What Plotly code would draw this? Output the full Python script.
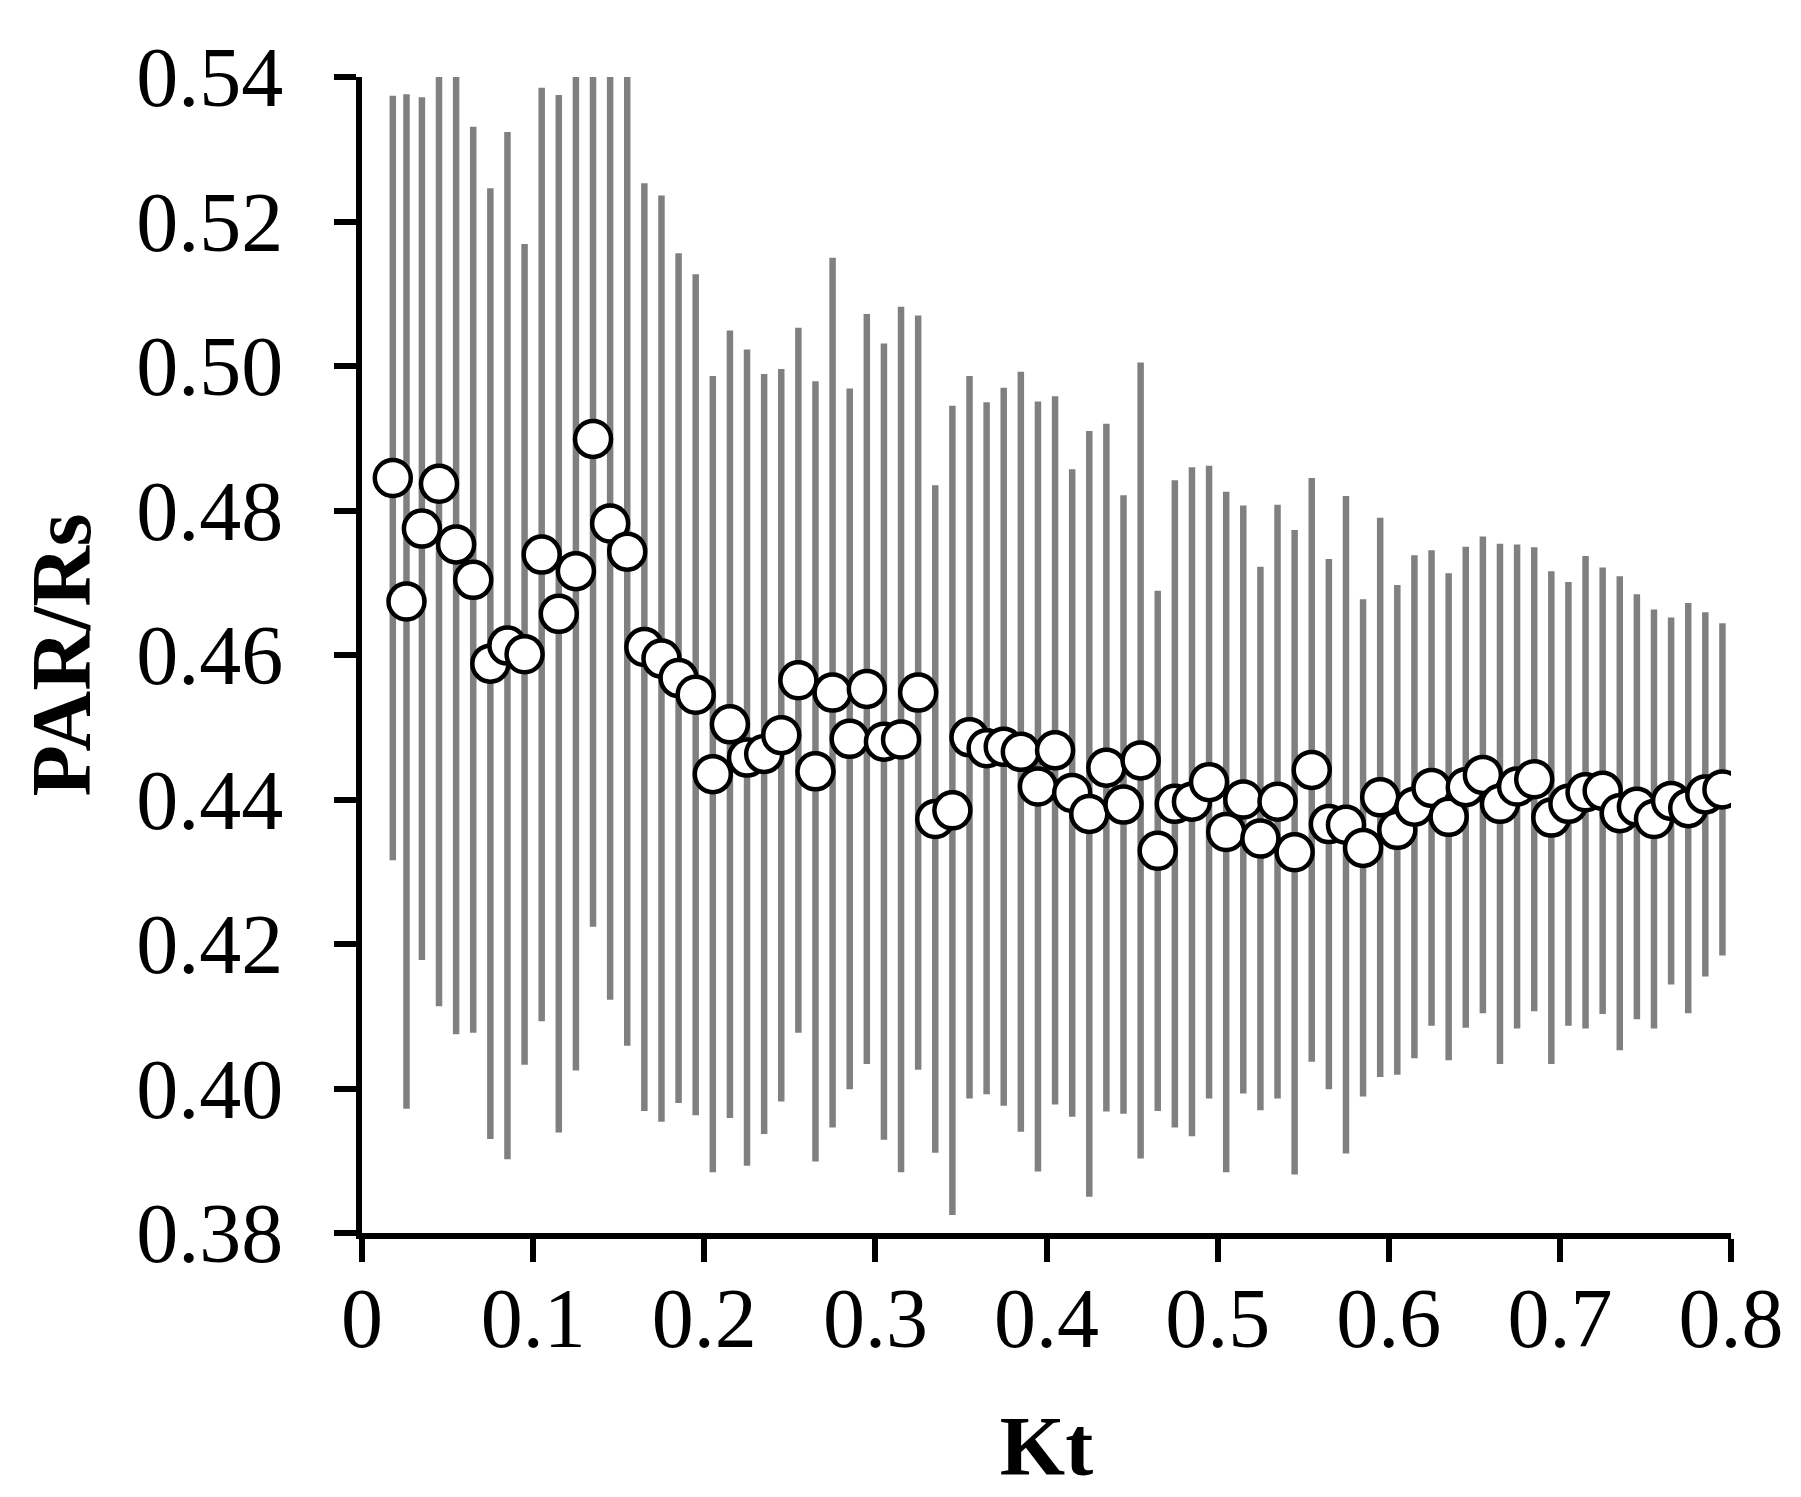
import plotly.graph_objects as go

# Kt class centres (clearness index)
kt = [0.018, 0.026, 0.035, 0.045, 0.055, 0.065, 0.075, 0.085, 0.095, 0.105,
      0.115, 0.125, 0.135, 0.145, 0.155, 0.165, 0.175, 0.185, 0.195, 0.205,
      0.215, 0.225, 0.235, 0.245, 0.255, 0.265, 0.275, 0.285, 0.295, 0.305,
      0.315, 0.325, 0.335, 0.345, 0.355, 0.365, 0.375, 0.385, 0.395, 0.405,
      0.415, 0.425, 0.435, 0.445, 0.455, 0.465, 0.475, 0.485, 0.495, 0.505,
      0.515, 0.525, 0.535, 0.545, 0.555, 0.565, 0.575, 0.585, 0.595, 0.605,
      0.615, 0.625, 0.635, 0.645, 0.655, 0.665, 0.675, 0.685, 0.695, 0.705,
      0.715, 0.725, 0.735, 0.745, 0.755, 0.765, 0.775, 0.785, 0.795]

# mean PAR/Rs ratio per class
par_rs_mean = [0.4845, 0.4674, 0.4775, 0.4837, 0.4753, 0.4704, 0.4588, 0.4613, 0.4601, 0.4739,
               0.4657, 0.4716, 0.4899, 0.4782, 0.4743, 0.4611, 0.4595, 0.4568, 0.4545, 0.4435,
               0.4504, 0.4458, 0.4463, 0.4489, 0.4565, 0.4439, 0.4548, 0.4484, 0.4553, 0.4480,
               0.4483, 0.4548, 0.4373, 0.4385, 0.4486, 0.4471, 0.4473, 0.4466, 0.4418, 0.4468,
               0.4409, 0.4380, 0.4444, 0.4393, 0.4454, 0.4329, 0.4394, 0.4397, 0.4424, 0.4355,
               0.4400, 0.4346, 0.4397, 0.4327, 0.4441, 0.4366, 0.4365, 0.4333, 0.4403, 0.4358,
               0.4390, 0.4416, 0.4376, 0.4417, 0.4434, 0.4394, 0.4418, 0.4428, 0.4375, 0.4394,
               0.4410, 0.4412, 0.4381, 0.4390, 0.4373, 0.4398, 0.4388, 0.4407, 0.4414]

# standard deviation per class
par_rs_sd = [0.0529, 0.0702, 0.0597, 0.0723, 0.0678, 0.0627, 0.0658, 0.0711, 0.0568, 0.0646,
             0.0718, 0.0691, 0.0675, 0.0659, 0.0684, 0.0642, 0.0641, 0.0588, 0.0582, 0.0551,
             0.0545, 0.0565, 0.0526, 0.0507, 0.0488, 0.0540, 0.0602, 0.0485, 0.0519, 0.0551,
             0.0599, 0.0522, 0.0462, 0.0560, 0.0500, 0.0479, 0.0497, 0.0526, 0.0533, 0.0490,
             0.0448, 0.0530, 0.0476, 0.0428, 0.0551, 0.0360, 0.0448, 0.0463, 0.0438, 0.0471,
             0.0407, 0.0376, 0.0411, 0.0446, 0.0404, 0.0367, 0.0455, 0.0344, 0.0387, 0.0339,
             0.0348, 0.0329, 0.0337, 0.0333, 0.0330, 0.0360, 0.0335, 0.0321, 0.0341, 0.0307,
             0.0327, 0.0309, 0.0328, 0.0294, 0.0290, 0.0254, 0.0284, 0.0252, 0.0230]

x_ticks = [0, 0.1, 0.2, 0.3, 0.4, 0.5, 0.6, 0.7, 0.8]
x_tick_labels = ["0", "0.1", "0.2", "0.3", "0.4", "0.5", "0.6", "0.7", "0.8"]
y_ticks = [0.38, 0.40, 0.42, 0.44, 0.46, 0.48, 0.50, 0.52, 0.54]
y_tick_labels = ["0.38", "0.40", "0.42", "0.44", "0.46", "0.48", "0.50", "0.52", "0.54"]

font_family = "Liberation Serif, Times New Roman, serif"

fig = go.Figure()

fig.add_trace(go.Scatter(
    x=kt, y=par_rs_mean,
    mode="markers",
    marker=dict(size=36, color="white", line=dict(color="black", width=4.5)),
    error_y=dict(type="data", array=par_rs_sd, visible=True,
                 color="#808080", thickness=6.5, width=0),
    showlegend=False,
))

fig.update_layout(
    width=1801, height=1497,
    paper_bgcolor="white", plot_bgcolor="white",
    margin=dict(l=354, r=78, t=69, b=272),
    font=dict(family=font_family, color="black", size=84),
)

fig.update_xaxes(
    range=[0, 0.8], tickvals=x_ticks, ticktext=x_tick_labels, tickangle=0,
    showgrid=False, zeroline=False, automargin=False,
    showline=True, linecolor="black", linewidth=6,
    ticks="outside", ticklen=23, tickwidth=6, tickcolor="black",
    ticklabelstandoff=-16,
    tickfont=dict(size=84),
    title=dict(text="<b>Kt</b>", font=dict(size=84), standoff=54),
)

fig.update_yaxes(
    range=[0.38, 0.54], tickvals=y_ticks, ticktext=y_tick_labels,
    showgrid=False, zeroline=False, automargin=False,
    showline=True, linecolor="black", linewidth=6,
    ticks="outside", ticklen=22, tickwidth=6, tickcolor="black",
    ticklabelstandoff=34,
    tickfont=dict(size=84),
    title=dict(text="<b>PAR/Rs</b>", font=dict(size=84), standoff=20),
)

fig.write_html("out.html")
